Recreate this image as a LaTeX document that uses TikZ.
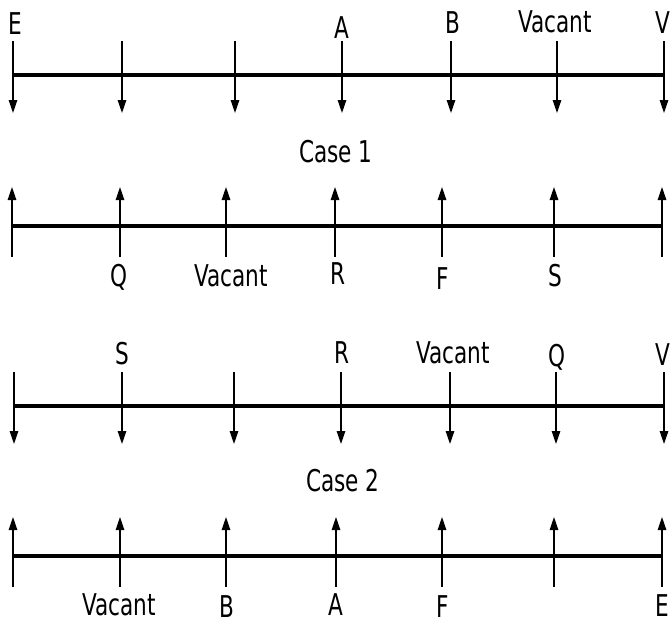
\documentclass[tikz,border=0pt]{standalone}
\usepackage{fontspec}
\setmainfont{DejaVu Sans}
\newfontfamily\lblfont[FakeStretch=0.72]{DejaVu Sans}
\usetikzlibrary{arrows.meta}
\begin{document}
\begin{tikzpicture}[x=1pt,y=-1pt,
  lbl/.style={inner sep=0pt, anchor=base, font=\lblfont\fontsize{30}{36}\selectfont},
  mainline/.style={line width=3.2pt, black},
  pointer/.style={line width=1.3pt, black, -{Triangle[length=13pt,width=8.5pt]}}]
\useasboundingbox (0,0) rectangle (671,624);
% Row 1 (arrows down)
\foreach \x [count=\i] in {13,122,235,342,451,557,664}{
  \coordinate (p1s\i) at (\x,41);
  \coordinate (p1m\i) at (\x,75);
  \coordinate (p1e\i) at (\x,113);
}
\draw[mainline] (p1m1) -- (p1m7);
\foreach \i in {1,...,7}{\draw[pointer] (p1s\i) -- (p1e\i);}
\node[lbl] (l1E) at (15,34.5) {E};
\node[lbl] (l1A) at (342,38) {A};
\node[lbl] (l1B) at (453,33) {B};
\node[lbl] (l1Vac) at (555,32) {Vacant};
\node[lbl] (l1V) at (663,33) {V};
\node[lbl] (case1) at (336,162.5) {Case 1};
% Row 2 (arrows up)
\foreach \x [count=\i] in {12,120,226,335,442,554,662}{
  \coordinate (p2s\i) at (\x,257);
  \coordinate (p2m\i) at (\x,226);
  \coordinate (p2e\i) at (\x,187);
}
\draw[mainline] (p2m1) -- (p2m7);
\foreach \i in {1,...,7}{\draw[pointer] (p2s\i) -- (p2e\i);}
\node[lbl] (l2Q) at (119,286) {Q};
\node[lbl] (l2Vac) at (231,286) {Vacant};
\node[lbl] (l2R) at (338,284) {R};
\node[lbl] (l2F) at (443,289) {F};
\node[lbl] (l2S) at (555,286) {S};
% Row 3 (arrows down)
\foreach \x [count=\i] in {14,122,234,341,450,556,664}{
  \coordinate (p3s\i) at (\x,372);
  \coordinate (p3m\i) at (\x,406);
  \coordinate (p3e\i) at (\x,444);
}
\draw[mainline] (p3m1) -- (p3m7);
\foreach \i in {1,...,7}{\draw[pointer] (p3s\i) -- (p3e\i);}
\node[lbl] (l3S) at (122,364) {S};
\node[lbl] (l3R) at (342,363) {R};
\node[lbl] (l3Vac) at (453,363) {Vacant};
\node[lbl] (l3Q) at (557,366) {Q};
\node[lbl] (l3V) at (663,365) {V};
\node[lbl] (case2) at (343,491) {Case 2};
% Row 4 (arrows up)
\foreach \x [count=\i] in {13,120,226,336,442,554,662}{
  \coordinate (p4s\i) at (\x,587);
  \coordinate (p4m\i) at (\x,556);
  \coordinate (p4e\i) at (\x,517);
}
\draw[mainline] (p4m1) -- (p4m7);
\foreach \i in {1,...,7}{\draw[pointer] (p4s\i) -- (p4e\i);}
\node[lbl] (l4Vac) at (119,615) {Vacant};
\node[lbl] (l4B) at (227,617) {B};
\node[lbl] (l4A) at (336,615) {A};
\node[lbl] (l4F) at (443,617) {F};
\node[lbl] (l4E) at (662,616) {E};
\end{tikzpicture}
\end{document}
